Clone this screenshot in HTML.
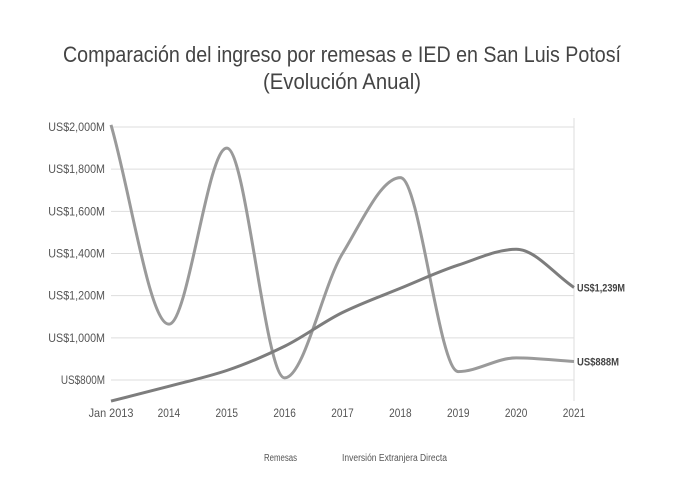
<!DOCTYPE html>
<html><head><meta charset="utf-8"><style>
body{margin:0;background:#fff}
svg{font-family:"Liberation Sans",sans-serif}
</style></head><body>
<svg id="chart" width="683" height="487">
<text x="342" y="62" text-anchor="middle" font-size="22" fill="#444" textLength="558" lengthAdjust="spacingAndGlyphs">Comparación del ingreso por remesas e IED en San Luis Potosí</text>
<text x="342" y="89" text-anchor="middle" font-size="22" fill="#444" textLength="158" lengthAdjust="spacingAndGlyphs">(Evolución Anual)</text>
<g id="grid"></g><g id="series"></g>
<text x="264" y="461" font-size="10" fill="#555" textLength="33" lengthAdjust="spacingAndGlyphs">Remesas</text>
<text x="342" y="461" font-size="10" fill="#555" textLength="105" lengthAdjust="spacingAndGlyphs">Inversión Extranjera Directa</text>
</svg>
<script>
const years=["Jan 2013","2014","2015","2016","2017","2018","2019","2020","2021"];
const remesas=[700,770,845,960,1120,1235,1345,1420,1239];
const ied=[2010,1065,1900,810,1400,1760,840,905,888];
const yTicks=[800,1000,1200,1400,1600,1800,2000];
const yTickLabels=["US$800M","US$1,000M","US$1,200M","US$1,400M","US$1,600M","US$1,800M","US$2,000M"];
const NS="http://www.w3.org/2000/svg";
const x=i=>111+i*(574-111)/8;
const y=v=>380-(v-800)*(380-127)/1200;
const grid=document.getElementById('grid'),ser=document.getElementById('series');
function mk(tag,attrs,parent){const e=document.createElementNS(NS,tag);for(const k in attrs)e.setAttribute(k,attrs[k]);parent.appendChild(e);return e;}
yTicks.forEach((v,i)=>{
 const l=mk('line',{x1:111,x2:574,y1:y(v),y2:y(v),stroke:'#ddd','stroke-width':1},grid);
 
 
 const t=mk('text',{x:105,y:y(v)+4,'text-anchor':'end','font-size':12,fill:'#555',textLength:yTickLabels[i].length*6.3,lengthAdjust:'spacingAndGlyphs'},grid);
 t.textContent=yTickLabels[i];
 
 
});
const vl=mk('line',{x1:574,x2:574,y1:118,y2:401,stroke:'#ddd'},grid);


years.forEach((yr,i)=>{
 const t=mk('text',{x:x(i),y:417,'text-anchor':'middle','font-size':12,fill:'#555',textLength:yr.length*5.6,lengthAdjust:'spacingAndGlyphs'},grid);
 t.textContent=yr;
 
 
});
function spline(vals){
 const p=vals.map((v,i)=>[x(i),y(v)]);const n=p.length,h=p[1][0]-p[0][0];
 const dl=[];for(let i=0;i<n-1;i++)dl.push((p[i+1][1]-p[i][1])/h);
 const m=[];for(let i=0;i<n;i++){
  if(i===0)m.push(dl[0]);else if(i===n-1)m.push(dl[n-2]);
  else if(dl[i-1]*dl[i]<=0)m.push(0);
  else m.push(2/(1/dl[i-1]+1/dl[i]));}
 let d=`M${p[0][0]},${p[0][1]}`;
 for(let i=0;i<n-1;i++){
  d+=` C${p[i][0]+h/3},${p[i][1]+m[i]*h/3} ${p[i+1][0]-h/3},${p[i+1][1]-m[i+1]*h/3} ${p[i+1][0]},${p[i+1][1]}`;
 }return d;}
const a=mk('path',{d:spline(ied),fill:'none',stroke:'#9a9a9a','stroke-width':3},ser);


const b=mk('path',{d:spline(remesas),fill:'none',stroke:'#7d7d7d','stroke-width':3},ser);


const l1=mk('text',{x:577,y:y(remesas[8])+4,'font-size':11,'font-weight':'bold',fill:'#444',textLength:48,lengthAdjust:'spacingAndGlyphs'},ser);
l1.textContent='US$'+remesas[8].toLocaleString('en-US')+'M';


const l2=mk('text',{x:577,y:y(ied[8])+4,'font-size':11,'font-weight':'bold',fill:'#444',textLength:42,lengthAdjust:'spacingAndGlyphs'},ser);
l2.textContent='US$'+ied[8]+'M';


</script>
</body></html>
